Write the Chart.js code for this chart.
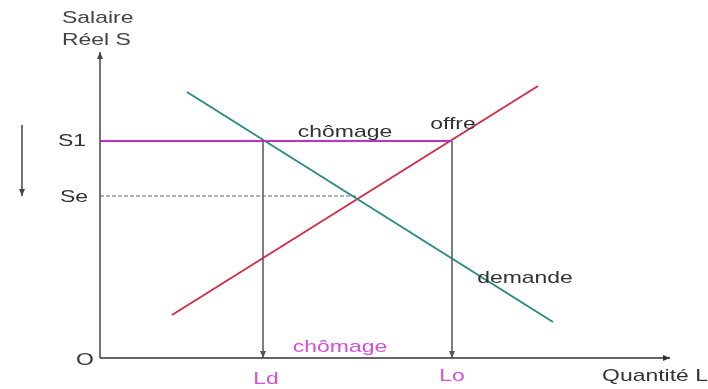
<!DOCTYPE html>
<html>
<head>
<meta charset="utf-8">
<script src="https://cdn.jsdelivr.net/npm/chart.js@4/dist/chart.umd.min.js"></script>
<style>
  html, body { margin: 0; padding: 0; background: #fff; }
  canvas { display: block; }
</style>
</head>
<body>
<canvas id="graph" width="708" height="389"></canvas>
<script>
// courbes : L = quantité de travail, S = salaire réel
const demandeL = [8.7, 45.3];
const demandeS = [26.6, 3.6];
const offreL = [7.2, 43.8];
const offreS = [4.3, 27.2];

// niveaux de salaire (S1 au-dessus de l'équilibre, Se = équilibre)
const salaireNoms = ["S1", "Se"];
const salaireValeurs = [21.7, 16.2];

// quantités demandée / offerte au salaire S1
const quantiteNoms = ["Ld", "Lo"];
const quantiteValeurs = [16.3, 35.2];

// quantité d'équilibre
const equilibreL = 25.7;

// longueur des axes
const axeMaxL = 57;
const axeMaxS = 30.6;

const gris = "#555";
const magenta = "#c22fc8";
const magentaTexte = "#d34fd8";

const ligne = (xs, ys, color, width, extra) => Object.assign({
  data: xs.map((x, i) => ({ x: x, y: ys[i] })),
  showLine: true,
  borderColor: color,
  borderWidth: width,
  pointRadius: 0,
  fill: false,
}, extra || {});

const datasets = [
  // axes
  ligne([0, 0], [0, axeMaxS], "#444", 1.5, { fleche: true }),
  ligne([0, axeMaxL], [0, 0], "#333", 1.5, { fleche: true }),
  // Se en pointillé
  ligne([0, equilibreL], [salaireValeurs[1], salaireValeurs[1]], "#666", 1, { borderDash: [4, 2] }),
  // Ld et Lo
  ligne([quantiteValeurs[0], quantiteValeurs[0]], [salaireValeurs[0], 0], gris, 1.5, { fleche: true }),
  ligne([quantiteValeurs[1], quantiteValeurs[1]], [salaireValeurs[0], 0], gris, 1.5, { fleche: true }),
  // S1
  ligne([0, quantiteValeurs[1]], [salaireValeurs[0], salaireValeurs[0]], magenta, 2),
  // demande et offre
  ligne(demandeL, demandeS, "#2c8c84", 2),
  ligne(offreL, offreS, "#cf3045", 2),
  // flèche de baisse du salaire
  ligne([-7.8, -7.8], [salaireValeurs[0] + 1.6, salaireValeurs[1]], "#444", 1.5, { fleche: true }),
];

// étiquettes : texte, L, S, couleur, alignement
const etiquettes = [
  ["Salaire", -3.8, 34.0, "#444", "left"],
  ["Réel S", -3.8, 31.8, "#444", "left"],
  [salaireNoms[0], -2.8, salaireValeurs[0], "#333", "center"],
  [salaireNoms[1], -2.6, salaireValeurs[1] - 0.1, "#333", "center"],
  ["O", -1.5, -0.2, "#333", "center"],
  [quantiteNoms[0], quantiteValeurs[0] + 0.3, -2.1, magentaTexte, "center"],
  [quantiteNoms[1], quantiteValeurs[1], -1.8, magentaTexte, "center"],
  ["Quantité L", 55.5, -1.8, "#333", "center"],
  ["chômage", 24.5, 22.6, "#333", "center"],
  ["offre", 35.3, 23.4, "#333", "center"],
  ["demande", 42.5, 8.0, "#333", "center"],
  ["chômage", 24.0, 1.1, magentaTexte, "center"],
];

const decor = {
  id: "decor",
  afterDatasetsDraw(chart) {
    const ctx = chart.ctx;
    const sx = chart.scales.x, sy = chart.scales.y;
    // pointes de flèche
    chart.data.datasets.forEach((ds, i) => {
      if (!ds.fleche) return;
      const pts = chart.getDatasetMeta(i).data;
      const a = pts[pts.length - 2], b = pts[pts.length - 1];
      const ang = Math.atan2(b.y - a.y, b.x - a.x);
      ctx.save();
      ctx.translate(b.x, b.y);
      ctx.rotate(ang);
      ctx.fillStyle = ds.borderColor;
      ctx.beginPath();
      ctx.moveTo(0, 0);
      ctx.lineTo(-7, -3);
      ctx.lineTo(-7, 3);
      ctx.closePath();
      ctx.fill();
      ctx.restore();
    });
    // textes
    etiquettes.forEach(([t, l, s, c, al]) => {
      ctx.save();
      ctx.translate(sx.getPixelForValue(l), sy.getPixelForValue(s));
      ctx.scale(1.35, 1);
      ctx.font = '17px "Liberation Sans", Arial, sans-serif';
      ctx.fillStyle = c;
      ctx.textAlign = al;
      ctx.textBaseline = "middle";
      ctx.fillText(t, 0, 0);
      ctx.restore();
    });
  },
};

new Chart(document.getElementById("graph"), {
  type: "scatter",
  data: { datasets: datasets },
  plugins: [decor],
  options: {
    responsive: false,
    animation: false,
    layout: { padding: 0 },
    plugins: { legend: { display: false }, tooltip: { enabled: false } },
    scales: {
      x: { type: "linear", display: false, min: -10, max: 60.8 },
      y: { type: "linear", display: false, min: -3.1, max: 35.8 },
    },
    elements: { line: { tension: 0 } },
  },
});
</script>
</body>
</html>
